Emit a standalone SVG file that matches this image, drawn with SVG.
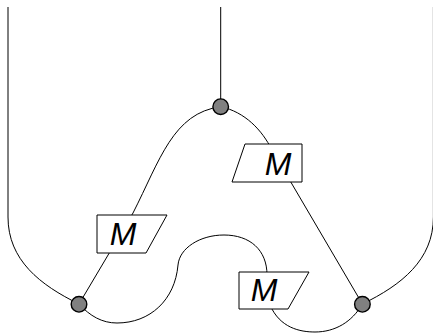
<svg xmlns="http://www.w3.org/2000/svg" width="433" height="333" viewBox="0 0 433 333">
<style>
.e{fill:none;stroke:#000;stroke-width:1}
.dot{fill:#808080;stroke:#000;stroke-width:1.4}
.box{fill:#fff;stroke:#000;stroke-width:1}
.lbl{font-family:"Liberation Sans",Arial,sans-serif;font-style:italic;font-size:32px;text-anchor:middle;fill:#000}
</style>
<rect width="433" height="333" fill="#fff"/>
<g id="connectors">
<path class="e" d="M8,7 V217 C8,260 40,285 79,304"/>
<path class="e" d="M433.4,7 V217 C433.4,260 401.4,285 362.4,304"/>
<path class="e" d="M220.7,7 V106.7"/>
<path class="e" d="M220.7,106.7 C173,113 160,160 133,213 L79,304"/>
<path class="e" d="M220.7,106.7 C245,112 262,130 272,150 L362.4,304"/>
<path class="e" d="M79,304 C90,316 102,323 117,323 C150,323 175,300 178,265 C179.5,248 200,235 224,235 C250,235 267,250 267,275"/>
<path class="e" d="M270,305 C280,328 300,332 315,332 C335,332 352,322 362.4,304"/>
</g>
<g id="n-top"><circle class="dot" cx="220.7" cy="106.7" r="7.8"/></g>
<g id="n-left"><circle class="dot" cx="79" cy="304.3" r="7.8"/></g>
<g id="n-right"><circle class="dot" cx="362.4" cy="304.3" r="7.8"/></g>
<g id="m-left">
<polygon class="box" points="97,215 167,215 146,253 97,253"/>
<text class="lbl" x="123" y="245">M</text>
</g>
<g id="m-upper">
<polygon class="box" points="245,144 302,144 302,182 232,182"/>
<text class="lbl" x="278" y="175">M</text>
</g>
<g id="m-bottom">
<polygon class="box" points="239,272 309,272 288,309 239,309"/>
<text class="lbl" x="264" y="301">M</text>
</g>
</svg>
